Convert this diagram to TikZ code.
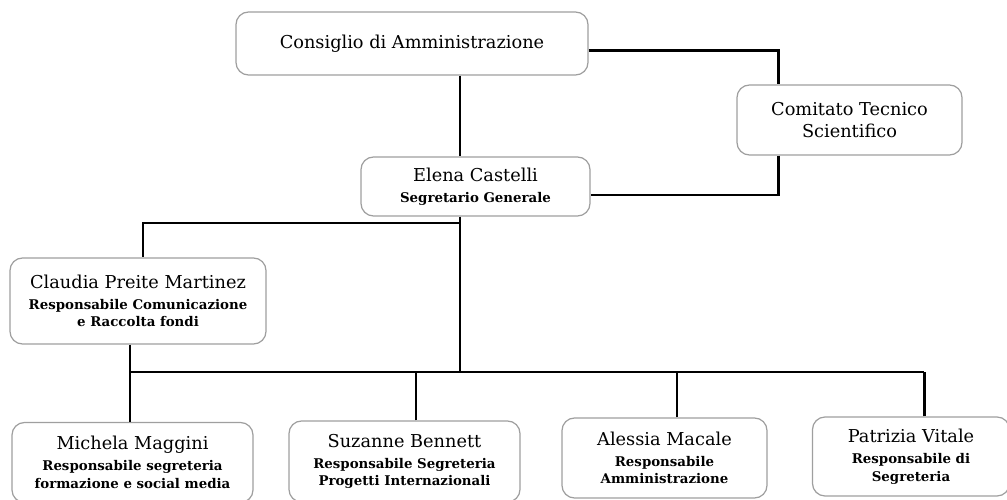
\documentclass[tikz,border=0pt]{standalone}
\usepackage{fontspec}
\setmainfont{DejaVu Serif}
\newcommand{\nome}[1]{{\fontsize{10.1}{12.5}\selectfont\mdseries #1}}
\begin{document}
\begin{tikzpicture}
	[ufficio/.style={rectangle, draw=gray!75, fill=white, line width=0.7pt, rounded corners=2.5mm,
		align=center, inner sep=2pt, font=\fontsize{7.6}{10}\selectfont\bfseries},
	 filo/.style={draw=black, line width=1.7pt},]
	\useasboundingbox (0,0) rectangle (20.14,-10);
	% vertici
	\node[ufficio, minimum width=7.04cm, minimum height=1.26cm] (cda) at (8.24,-0.87) {\nome{Consiglio di Amministrazione}};
	\node[ufficio, minimum width=4.5cm,  minimum height=1.4cm]  (cts) at (16.99,-2.4) {\nome{Comitato Tecnico}\\[3pt] \nome{Scientifico}};
	\node[ufficio, minimum width=4.58cm, minimum height=1.18cm] (sg)  at (9.51,-3.73) {\nome{Elena Castelli}\\[2pt] Segretario Generale};
	\node[ufficio, minimum width=5.12cm, minimum height=1.72cm] (cpm) at (2.76,-6.02) {\nome{Claudia Preite Martinez}\\[2pt] Responsabile Comunicazione\\ e Raccolta fondi};
	% uffici
	\node[ufficio, minimum width=4.82cm, minimum height=1.6cm] (mm) at (2.65,-9.25) {\nome{Michela Maggini}\\[2pt] Responsabile segreteria\\ formazione e social media};
	\node[ufficio, minimum width=4.62cm, minimum height=1.62cm] (sb) at (8.09,-9.23) {\nome{Suzanne Bennett}\\[2pt] Responsabile Segreteria\\ Progetti Internazionali};
	\node[ufficio, minimum width=4.1cm,  minimum height=1.6cm] (am) at (13.29,-9.16) {\nome{Alessia Macale}\\[2pt] Responsabile\\ Amministrazione};
	\node[ufficio, minimum width=3.94cm, minimum height=1.58cm] (pv) at (18.22,-9.13) {\nome{Patrizia Vitale}\\[2pt] Responsabile di\\ Segreteria};
	% linee
	\coordinate (xa) at (9.2,0);
	\coordinate (xb) at (15.56,0);
	\coordinate (xc) at (2.86,0);
	\coordinate (br) at (9.2,-4.46);
	\coordinate (busl) at (2.6,-7.44);
	\coordinate (busr) at (18.48,-7.44);
	\draw[filo] (cda.south -| xa) -- (sg.north -| xa);
	\draw[filo] ([yshift=-1.4mm]cda.east) -| (cts.north -| xb);
	\draw[filo] (cts.south -| xb) |- ([yshift=-1.7mm]sg.east);
	\draw[filo] (sg.south -| xa) -- (xa |- busl);
	\draw[filo] (br) -| (cpm.north -| xc);
	\draw[filo] (cpm.south -| busl) -- (busl) -- (busr);
	\foreach \n/\dx in {mm/-0.05, sb/0.23, am/0.25, pv/0.26}
		\draw[filo] ([xshift=\dx cm]\n.north) -- ([xshift=\dx cm]\n.north |- busl);
\end{tikzpicture}
\end{document}
